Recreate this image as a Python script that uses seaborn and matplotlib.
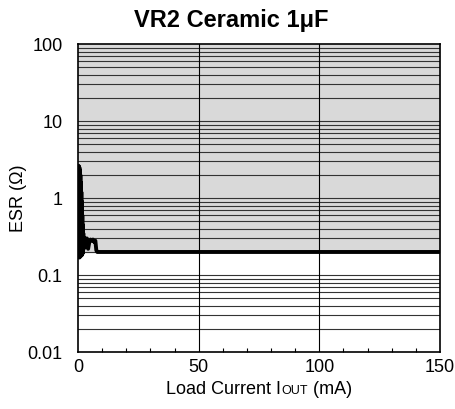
import numpy as np
import pandas as pd
import seaborn as sns
import matplotlib.pyplot as plt
from matplotlib.offsetbox import TextArea, HPacker, AnchoredOffsetbox

# ESR vs load current
current_ma = [0.2, 0.3, 0.4, 0.5, 0.6, 0.7, 0.8, 0.9, 1.0, 1.1, 1.2, 1.3, 1.4, 1.5,
              1.6, 1.7, 1.8, 1.9, 2.0, 2.1, 2.2, 2.4, 2.7, 3.0, 3.3, 3.7, 4.2,
              4.7, 5.2, 5.7, 6.2, 6.7, 7.2, 7.6, 8.0, 10.0, 150.0]
esr_ohm = [2.6, 0.17, 2.6, 0.18, 2.5, 0.17, 2.3, 0.19, 2.0, 0.18, 1.6, 0.19, 1.2,
           0.18, 0.9, 0.2, 0.6, 0.19, 0.45, 0.2, 0.35, 0.22, 0.28, 0.3, 0.27,
           0.3, 0.22, 0.27, 0.29, 0.28, 0.29, 0.27, 0.28, 0.21, 0.2, 0.2, 0.2]

stable_low = 0.2
stable_high = 100
x_ticks = [0, 50, 100, 150]
y_ticks = [0.01, 0.1, 1, 10, 100]
y_tick_labels = ["0.01", "0.1", "1", "10", "100"]

df = pd.DataFrame({"Iout": current_ma, "ESR": esr_ohm})

sns.set_style("white")
plt.rcParams['font.family'] = ['Liberation Sans', 'DejaVu Sans']
plt.rcParams.update({"text.color": "black", "axes.labelcolor": "black",
                     "xtick.color": "black", "ytick.color": "black"})

fig = plt.figure(figsize=(4.56, 4.09), dpi=100)
ax = fig.add_axes([0.171, 0.139, 0.794, 0.753])

# stable region shading
ax.fill_between([0, 150], stable_low, stable_high, color="#d9d9d9", zorder=0)

# grid: minor log lines and vertical lines
for dec in [0.01, 0.1, 1, 10]:
    for m in range(2, 10):
        ax.axhline(dec * m, color="#333333", lw=0.8, zorder=1)
for dec in [0.1, 1, 10]:
    ax.axhline(dec, color="#333333", lw=0.8, zorder=1)
for xv in [50, 100]:
    ax.axvline(xv, color="black", lw=0.8, zorder=1)

sns.lineplot(data=df, x="Iout", y="ESR", sort=False, estimator=None,
             color="black", lw=2.8, ax=ax, zorder=3)

ax.set_yscale("log")
ax.set_xlim(0, 150)
ax.set_ylim(0.01, 100)
ax.set_xticks(x_ticks)
ax.set_xticks(np.arange(10, 150, 10), minor=True)
ax.set_yticks(y_ticks)
ax.set_yticklabels(y_tick_labels)
ax.yaxis.set_minor_locator(plt.NullLocator())
ax.tick_params(axis="y", which="major", length=0, labelsize=13, pad=11)
ax.tick_params(axis="x", which="major", length=0, labelsize=13, pad=5)
ax.tick_params(axis="x", which="minor", direction="in", length=3, width=0.8, bottom=True)

for s in ax.spines.values():
    s.set_color("black")
    s.set_linewidth(1.2)

fig.text(231 / 456, 1 - 27 / 409, "VR2 Ceramic 1μF", fontsize=17,
         fontweight="bold", ha="center", va="baseline", color="black")
ax.set_ylabel("ESR (Ω)", fontsize=13, va="center")
ax.yaxis.set_label_coords(-0.165, 0.5)
ax.set_xlabel("")

# x label with small-caps style "OUT"
tp = dict(fontsize=13, color="black")
parts = [TextArea("Load Current I", textprops=tp),
         TextArea("OUT", textprops=dict(fontsize=9, color="black")),
         TextArea(" (mA)", textprops=tp)]
box = HPacker(children=parts, align="baseline", pad=0, sep=0)
anch = AnchoredOffsetbox(loc="upper center", child=box, frameon=False,
                         bbox_to_anchor=(0.5, -0.095), bbox_transform=ax.transAxes,
                         borderpad=0, pad=0)
ax.add_artist(anch)

fig.savefig("out.png", dpi=100)
